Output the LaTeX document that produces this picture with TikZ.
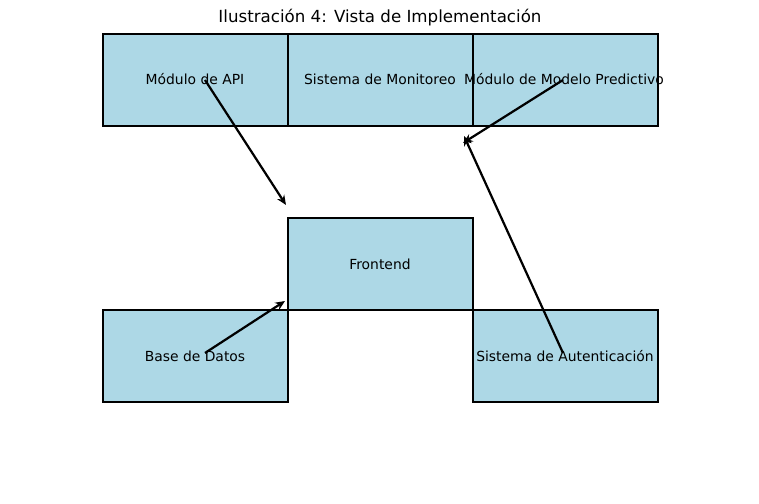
\documentclass[tikz,border=0pt]{standalone}
\usepackage{fontspec}
\setmainfont{DejaVu Sans}
\usetikzlibrary{arrows.meta}
\begin{document}
\begin{tikzpicture}[x=0.72pt,y=-0.72pt,
  box/.style={draw=black,fill=lightblue,line width=1.7pt,minimum width=185*0.72pt,minimum height=92*0.72pt,inner sep=0pt,anchor=north west},
  lbl/.style={font=\fontsize{10}{12}\selectfont,text=black},
  conn/.style={line width=1.6pt,-{Stealth[length=7pt,width=6pt]}}]
\definecolor{lightblue}{RGB}{173,216,230}
\path[use as bounding box] (0,0) rectangle (759,504);
\node[box] (api) at (102,33) {};
\node[box] (mon) at (287,33) {};
\node[box] (pred) at (472,33) {};
\node[box] (front) at (287,217) {};
\node[box] (db) at (102,309) {};
\node[box] (auth) at (472,309) {};
\node[lbl] (tapi) at (195,79) {Módulo de API};
\node[lbl] (tmon) at (380,79) {Sistema de Monitoreo};
\node[lbl] (tpred) at (564,79) {Módulo de Modelo Predictivo};
\node[lbl] (tfront) at (380,264) {Frontend};
\node[lbl] (tdb) at (195,356) {Base de Datos};
\node[lbl] (tauth) at (565,356) {Sistema de Autenticación};
\node[font=\fontsize{12}{14}\selectfont] (title) at (380,18) {Ilustración 4: Vista de Implementación};
\coordinate (s1) at (205,80);
\coordinate (e1) at (286,205);
\coordinate (s2) at (563,80);
\coordinate (e2) at (463,143);
\coordinate (s3) at (205,353);
\coordinate (e3) at (285,301);
\coordinate (s4) at (563,353);
\coordinate (e4) at (464,136);
\draw[conn] (s1) -- (e1);
\draw[conn] (s2) -- (e2);
\draw[conn] (s3) -- (e3);
\draw[conn] (s4) -- (e4);
\end{tikzpicture}
\end{document}
